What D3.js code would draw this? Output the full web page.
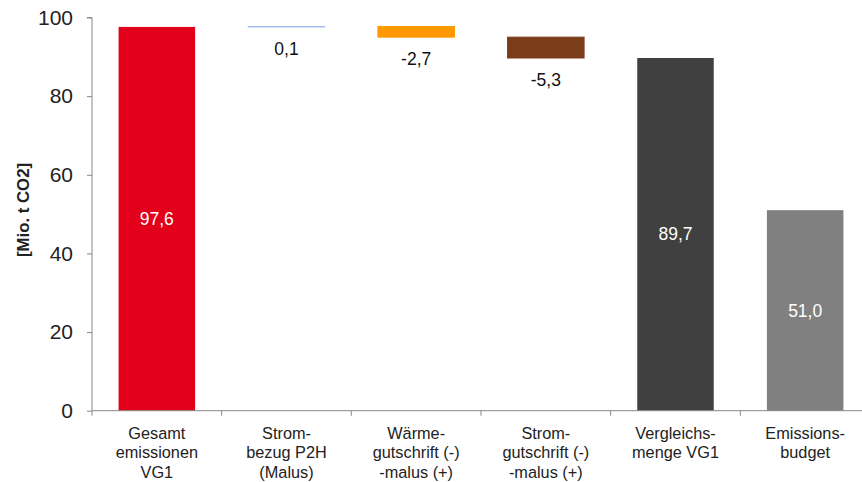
<!DOCTYPE html>
<html><head><meta charset="utf-8">
<script src="https://cdn.jsdelivr.net/npm/d3@7"></script>
<style>body{margin:0;background:#fff}svg{display:block;font-family:"Liberation Sans",Arial,sans-serif}</style>
</head><body><svg id="c" width="862" height="482"></svg>
<script>
const categories = [["Gesamt","emissionen","VG1"],["Strom-","bezug P2H","(Malus)"],["Wärme-","gutschrift (-)","-malus (+)"],["Strom-","gutschrift (-)","-malus (+)"],["Vergleichs-","menge VG1"],["Emissions-","budget"]];
const kinds = ["total","delta","delta","delta","total","total"];
const values = [97.6, 0.1, -2.7, -5.3, 89.7, 51.0];
const labels = ["97,6","0,1","-2,7","-5,3","89,7","51,0"];
const colors = ["#E2001A","#9DB8EE","#FF9900","#7B3C1A","#404040","#808080"];
const yTicks = [0,20,40,60,80,100];

const svg = d3.select("#c");
const x = d3.scaleBand().domain(d3.range(values.length)).range([92,870]).paddingInner(0.41).paddingOuter(0.205);
const y = d3.scaleLinear().domain([0,100]).range([410.7,17.5]);

let run = 0;
const bars = values.map((v,i)=>{
  let lo, hi;
  if (kinds[i]==="total"){ lo=0; hi=v; run=v; }
  else { const s=run; run=run+v; lo=Math.min(s,run); hi=Math.max(s,run); }
  return {i,lo,hi,kind:kinds[i]};
});

svg.selectAll("rect.bar").data(bars).join("rect")
  .attr("x",d=>x(d.i)).attr("width",x.bandwidth())
  .attr("y",d=>y(d.hi)).attr("height",d=>Math.max(0.4,y(d.lo)-y(d.hi)))
  .attr("fill",d=>colors[d.i])
  .attr("stroke",d=>d.kind==="delta"?colors[d.i]:"none").attr("stroke-width",d=>d.kind==="delta"?1:0);

svg.selectAll("text.val").data(bars).join("text")
  .attr("x",d=>x(d.i)+x.bandwidth()/2)
  .attr("y",d=>d.kind==="total"? (y(d.lo)+y(d.hi))/2 : y(d.lo)+22)
  .attr("dy","0.35em").attr("text-anchor","middle")
  .attr("font-size",17.5)
  .attr("fill",d=>d.kind==="total"?"#fff":"#111")
  .text(d=>labels[d.i]);

const yAxis = svg.append("g").attr("transform","translate(92,0)")
  .call(d3.axisLeft(y).tickValues(yTicks).tickSize(5).tickPadding(14).tickFormat(d3.format("d")));
yAxis.select(".domain").attr("stroke","#888").attr("d","M-5,17.5H0V410.7");
yAxis.selectAll(".tick line").attr("stroke","#888");
yAxis.selectAll(".tick text").attr("font-size",21).attr("fill","#222").attr("font-family","Liberation Sans, Arial, sans-serif");

const xg = svg.append("g");
xg.append("line").attr("x1",92).attr("x2",870).attr("y1",y(0)).attr("y2",y(0)).attr("stroke","#888");
const bounds = d3.range(values.length+1).map(i=>92 + i*x.step());
xg.selectAll("line.t").data(bounds).join("line")
  .attr("x1",d=>d).attr("x2",d=>d).attr("y1",y(0)).attr("y2",y(0)+5).attr("stroke","#888");

const cat = svg.selectAll("text.cat").data(categories).join("text")
  .attr("text-anchor","middle").attr("font-size",16.3).attr("fill","#222");
cat.each(function(lines,i){
  const t=d3.select(this);
  lines.forEach((l,j)=>{
    t.append("tspan").attr("x",x(i)+x.bandwidth()/2).attr("y",439+j*19.3).text(l);
  });
});

svg.append("text").attr("transform","translate(23,210) rotate(-90)")
  .attr("text-anchor","middle").attr("dy","0.35em").attr("font-size",16.8).attr("font-weight","bold").attr("fill","#222")
  .text("[Mio. t CO2]");
</script></body></html>
